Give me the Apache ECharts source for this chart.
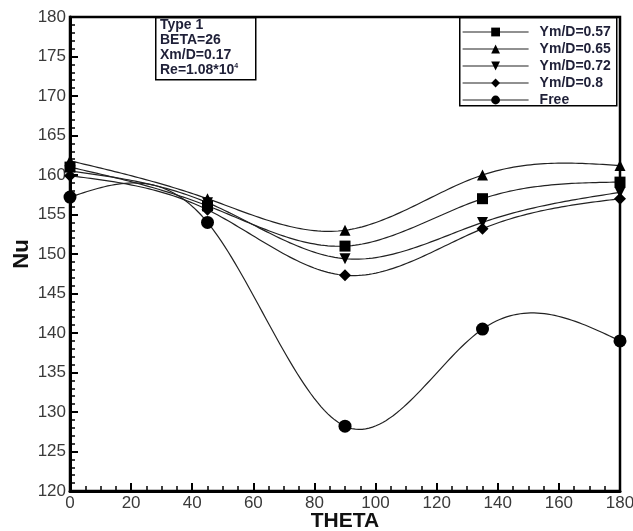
<!DOCTYPE html>
<html>
<head>
<meta charset="utf-8">
<script src="https://cdn.jsdelivr.net/npm/echarts@6/dist/echarts.min.js"></script>
<style>
  html, body { margin: 0; padding: 0; background: #fff; }
  #main { width: 633px; height: 531px; }
</style>
</head>
<body>
<div id="main"></div>
<script>
// 数据
var theta = [0, 45, 90, 135, 180];
var nu057 = [161.0, 156.1, 151.0, 157.0, 159.1];
var nu065 = [161.8, 157.0, 153.0, 160.0, 161.2];
var nu072 = [160.5, 156.5, 149.4, 154.0, 157.8];
var nu08 = [159.9, 155.6, 147.3, 153.2, 157.0];
var nuFree = [157.2, 154.0, 128.2, 140.5, 139.0];
var seriesNames = ['Ym/D=0.57', 'Ym/D=0.65', 'Ym/D=0.72', 'Ym/D=0.8', 'Free'];

var chart = echarts.init(document.getElementById('main'));

var pairs = function (ys) {
    return theta.map(function (x, i) { return [x, ys[i]]; });
};

// 自然三次样条的二阶导数
var splineM = function (xs, ys) {
    var n = xs.length, m = new Array(n).fill(0);
    var a = [], b = [], c = [], d = [];
    for (var i = 1; i < n - 1; i++) {
        var h0 = xs[i] - xs[i - 1], h1 = xs[i + 1] - xs[i];
        a.push(h0); b.push(2 * (h0 + h1)); c.push(h1);
        d.push(6 * ((ys[i + 1] - ys[i]) / h1 - (ys[i] - ys[i - 1]) / h0));
    }
    var k = d.length;
    for (var j = 1; j < k; j++) {
        var w = a[j] / b[j - 1];
        b[j] -= w * c[j - 1];
        d[j] -= w * d[j - 1];
    }
    var sol = new Array(k);
    for (var j2 = k - 1; j2 >= 0; j2--) {
        sol[j2] = (d[j2] - (j2 < k - 1 ? c[j2] * sol[j2 + 1] : 0)) / b[j2];
    }
    for (var t = 0; t < k; t++) m[t + 1] = sol[t];
    return m;
};

// 曲线：用坐标轴把样条映射到像素
var makeCurve = function (name, ys) {
    var m = splineM(theta, ys);
    return {
        name: name + '-curve',
        type: 'custom',
        data: pairs(ys),
        encode: { x: 0, y: 1 },
        silent: true,
        z: 2,
        renderItem: function (params, api) {
            if (params.dataIndex !== 0) return;
            var pts = [];
            for (var i = 0; i < theta.length - 1; i++) {
                var x0 = theta[i], x1 = theta[i + 1], h = x1 - x0;
                for (var s = 0; s <= 40; s++) {
                    var x = x0 + h * s / 40;
                    var A = (x1 - x) / h, B = (x - x0) / h;
                    var y = A * ys[i] + B * ys[i + 1] +
                        ((A * A * A - A) * m[i] + (B * B * B - B) * m[i + 1]) * h * h / 6;
                    pts.push(api.coord([x, y]));
                }
            }
            return {
                type: 'polyline',
                shape: { points: pts },
                style: { fill: null, stroke: '#222', lineWidth: 1.2 }
            };
        }
    };
};

var makeMarks = function (name, ys, symbol, size, rotate) {
    return {
        name: name,
        type: 'line',
        data: pairs(ys),
        symbol: symbol,
        symbolSize: size,
        symbolRotate: rotate || 0,
        showAllSymbol: true,
        itemStyle: { color: '#000' },
        lineStyle: { opacity: 0 },
        z: 3
    };
};

var labelFont = { fontFamily: 'Liberation Sans', fontSize: 17, color: '#3a3a3a' };

chart.setOption({
    backgroundColor: '#fff',
    animation: false,
    grid: {
        left: 70, right: 13, top: 17, bottom: 40,
        outerBoundsMode: 'none', containLabel: false,
        show: true, borderColor: '#000', borderWidth: 2.5
    },
    legend: {
        orient: 'vertical',
        left: 462, top: 25,
        itemWidth: 66, itemHeight: 11, itemGap: 3,
        padding: 0,
        lineStyle: { color: '#222', width: 1.2, opacity: 1 },
        textStyle: { fontFamily: 'Liberation Sans', fontSize: 14, fontWeight: 'bold', color: '#1f2038', lineHeight: 14, padding: [0, 0, 0, 6] },
        data: seriesNames
    },
    xAxis: {
        type: 'value', min: 0, max: 180, interval: 20,
        name: 'THETA', nameLocation: 'middle', nameGap: 20, nameMoveOverlap: false,
        nameTextStyle: { fontFamily: 'Liberation Sans', fontSize: 21, fontWeight: 'bold', color: '#111' },
        axisLine: { lineStyle: { color: '#000', width: 3 } },
        axisTick: { inside: true, length: 8, lineStyle: { color: '#000', width: 2 } },
        minorTick: { show: true, splitNumber: 4, length: 5, lineStyle: { color: '#000', width: 1.5 } },
        axisLabel: Object.assign({ margin: 4 }, labelFont),
        splitLine: { show: false }
    },
    yAxis: {
        type: 'value', min: 120, max: 180, interval: 5,
        name: 'Nu', nameLocation: 'middle', nameGap: 37, nameRotate: 90, nameMoveOverlap: false,
        nameTextStyle: { fontFamily: 'Liberation Sans', fontSize: 22, fontWeight: 'bold', color: '#111' },
        axisLine: { lineStyle: { color: '#000', width: 3 } },
        axisTick: { inside: true, length: 8, lineStyle: { color: '#000', width: 2 } },
        minorTick: { show: true, splitNumber: 5, length: 5, lineStyle: { color: '#000', width: 1.5 } },
        axisLabel: Object.assign({ margin: 4 }, labelFont),
        splitLine: { show: false }
    },
    graphic: [
        // 参数说明框
        {
            type: 'rect', left: 155, top: 17, z: 10,
            shape: { width: 100, height: 62 },
            style: { fill: '#fff', stroke: '#000', lineWidth: 1.5 }
        },
        {
            type: 'text', left: 160, top: 18, z: 11,
            style: {
                text: 'Type 1\nBETA=26\nXm/D=0.17\n{b|Re=1.08*10}{s|4}',
                font: 'bold 14px "Liberation Sans"',
                fill: '#1f2038',
                lineHeight: 15,
                rich: {
                    b: { font: 'bold 14px "Liberation Sans"', fill: '#1f2038', lineHeight: 15 },
                    s: { font: 'bold 7px "Liberation Sans"', fill: '#1f2038', verticalAlign: 'top', lineHeight: 15, padding: [0, 0, 6, 0] }
                }
            }
        },
        // 图例框
        {
            type: 'rect', left: 459, top: 17, z: 0,
            shape: { width: 157, height: 88 },
            style: { fill: '#fff', stroke: '#000', lineWidth: 1.5 }
        }
    ],
    series: [
        makeCurve(seriesNames[0], nu057),
        makeCurve(seriesNames[1], nu065),
        makeCurve(seriesNames[2], nu072),
        makeCurve(seriesNames[3], nu08),
        makeCurve(seriesNames[4], nuFree),
        makeMarks(seriesNames[0], nu057, 'rect', 11),
        makeMarks(seriesNames[1], nu065, 'triangle', 11),
        makeMarks(seriesNames[2], nu072, 'triangle', 11, 180),
        makeMarks(seriesNames[3], nu08, 'diamond', 12),
        makeMarks(seriesNames[4], nuFree, 'circle', 13)
    ]
});
</script>
</body>
</html>
